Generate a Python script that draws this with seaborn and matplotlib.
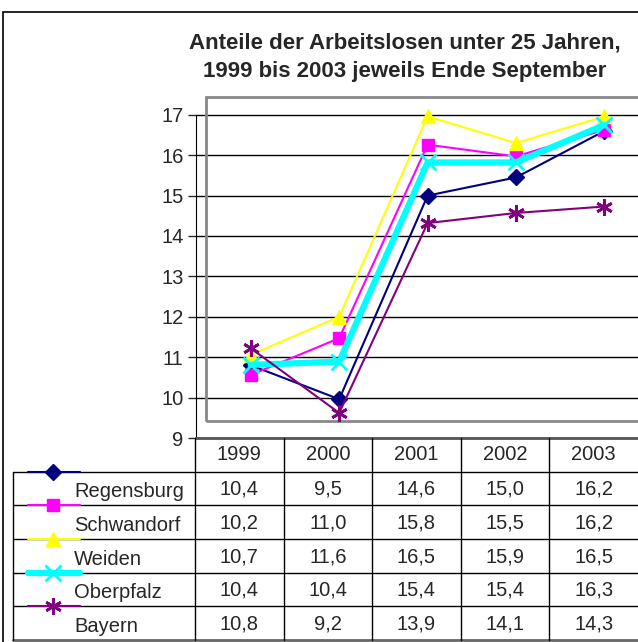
import numpy as np
import pandas as pd
import seaborn as sns
import matplotlib.pyplot as plt
from matplotlib.patches import Rectangle

# data
years = ["1999", "2000", "2001", "2002", "2003"]
regions = ["Regensburg", "Schwandorf", "Weiden", "Oberpfalz", "Bayern"]

# plotted positions (as drawn in the chart)
regensburg = [10.8, 9.96, 15.0, 15.45, 16.6]
schwandorf = [10.56, 11.47, 16.26, 15.97, 16.63]
weiden = [11.06, 12.0, 16.96, 16.3, 16.96]
oberpfalz = [10.81, 10.89, 15.82, 15.82, 16.75]
bayern = [11.22, 9.62, 14.32, 14.57, 14.73]

# values printed in the data table
tab_regensburg = ["10,4", "9,5", "14,6", "15,0", "16,2"]
tab_schwandorf = ["10,2", "11,0", "15,8", "15,5", "16,2"]
tab_weiden = ["10,7", "11,6", "16,5", "15,9", "16,5"]
tab_oberpfalz = ["10,4", "10,4", "15,4", "15,4", "16,3"]
tab_bayern = ["10,8", "9,2", "13,9", "14,1", "14,3"]

plotted = [regensburg, schwandorf, weiden, oberpfalz, bayern]
tables = [tab_regensburg, tab_schwandorf, tab_weiden, tab_oberpfalz, tab_bayern]

colors = ["#000080", "#FF00FF", "#FFFF00", "#00FFFF", "#800080"]
markers = ["D", "s", "^", "x", (6, 2, 0)]
widths = [1.5, 1.5, 1.5, 4.5, 1.5]
msizes = [8, 9, 10, 11, 12]

sns.set_style("white")
plt.rcParams['font.family'] = ['Liberation Sans', 'DejaVu Sans']

W, H = 638, 642
FS = 14.5
fig = plt.figure(figsize=(W / 100, H / 100), dpi=100)


def rect(x0, y0, x1, y1):
    # pixel box (top-left origin) -> figure fraction
    return [x0 / W, 1 - y1 / H, (x1 - x0) / W, (y1 - y0) / H]


# outer frame
fig.patches.append(Rectangle((3 / W, -0.01), 1.0, 1 - 12 / H + 0.01,
                             transform=fig.transFigure, fill=False,
                             edgecolor="black", lw=1.2))

fig.text(405 / W, 1 - 43 / H, "Anteile der Arbeitslosen unter 25 Jahren,",
         ha="center", va="center", fontsize=16, fontweight="bold")
fig.text(405 / W, 1 - 72 / H, "1999 bis 2003 jeweils Ende September",
         ha="center", va="center", fontsize=16, fontweight="bold")

# main chart
ax = fig.add_axes(rect(196, 97, 638, 438))
x = np.arange(len(years))
for vals, c, m, lw, ms in zip(plotted, colors, markers, widths, msizes):
    sns.lineplot(x=x, y=vals, ax=ax, color=c, marker=m, lw=lw,
                 markersize=ms, markeredgecolor=c,
                 markeredgewidth=2 if m in ("x", (6, 2, 0)) else 1,
                 zorder=5)

ax.set_xlim(-0.62, 4.38)
ax.set_ylim(9, 9 + 341 / 40.4)
ax.set_yticks(range(9, 18))
ax.set_xticks([])
ax.yaxis.grid(True, color="black", lw=1)
ax.set_axisbelow(True)
ax.tick_params(axis="y", direction="out", length=6, width=1, pad=3,
               labelsize=FS, left=True)
for s in ["top", "right"]:
    ax.spines[s].set_visible(False)
ax.spines["left"].set_bounds(9, 17)
ax.spines["left"].set_color("black")
ax.spines["bottom"].set_color("#555555")
ax.spines["bottom"].set_linewidth(2)
ax.add_patch(Rectangle(((206 - 196) / 442, (438 - 421) / 341), 1.2,
                       1 - (438 - 421) / 341, transform=ax.transAxes,
                       fill=False, edgecolor="#888888", lw=2, clip_on=False,
                       zorder=1))

# data table with legend keys
tx = fig.add_axes(rect(195, 438, 638, 640))
tx.set_xlim(-0.5, 4.5)
tx.set_ylim(6, 0)
tx.axis("off")
lx = -0.5 - (195 - 13) / 88.6
for j, yr in enumerate(years):
    tx.text(j, 0.5, yr, ha="center", va="center", fontsize=FS)
for i, (name, vals) in enumerate(zip(regions, tables)):
    r = i + 1
    tx.plot([lx, 4.5], [r, r], color="black", lw=1, clip_on=False)
    for j, v in enumerate(vals):
        tx.text(j, r + 0.52, v, ha="center", va="center", fontsize=FS)
    tx.text(-0.5 - (195 - 74) / 88.6, r + 0.6, name, ha="left", va="center",
            fontsize=FS)
    tx.plot([-0.5 - (195 - 28) / 88.6, -0.5 - (195 - 80) / 88.6], [r, r],
            color=colors[i], lw=widths[i], clip_on=False, zorder=5)
    tx.plot([-0.5 - (195 - 53) / 88.6], [r], color=colors[i], marker=markers[i],
            markersize=msizes[i], markeredgecolor=colors[i],
            markeredgewidth=2 if i >= 3 else 1, clip_on=False, zorder=6)
tx.plot([lx, 4.5], [6, 6], color="#666666", lw=2, clip_on=False)
tx.plot([lx, lx], [1, 6], color="black", lw=1, clip_on=False)
for j in range(5):
    tx.plot([j - 0.5, j - 0.5], [0, 6], color="black", lw=1, clip_on=False)

fig.savefig("out.png", dpi=100)
